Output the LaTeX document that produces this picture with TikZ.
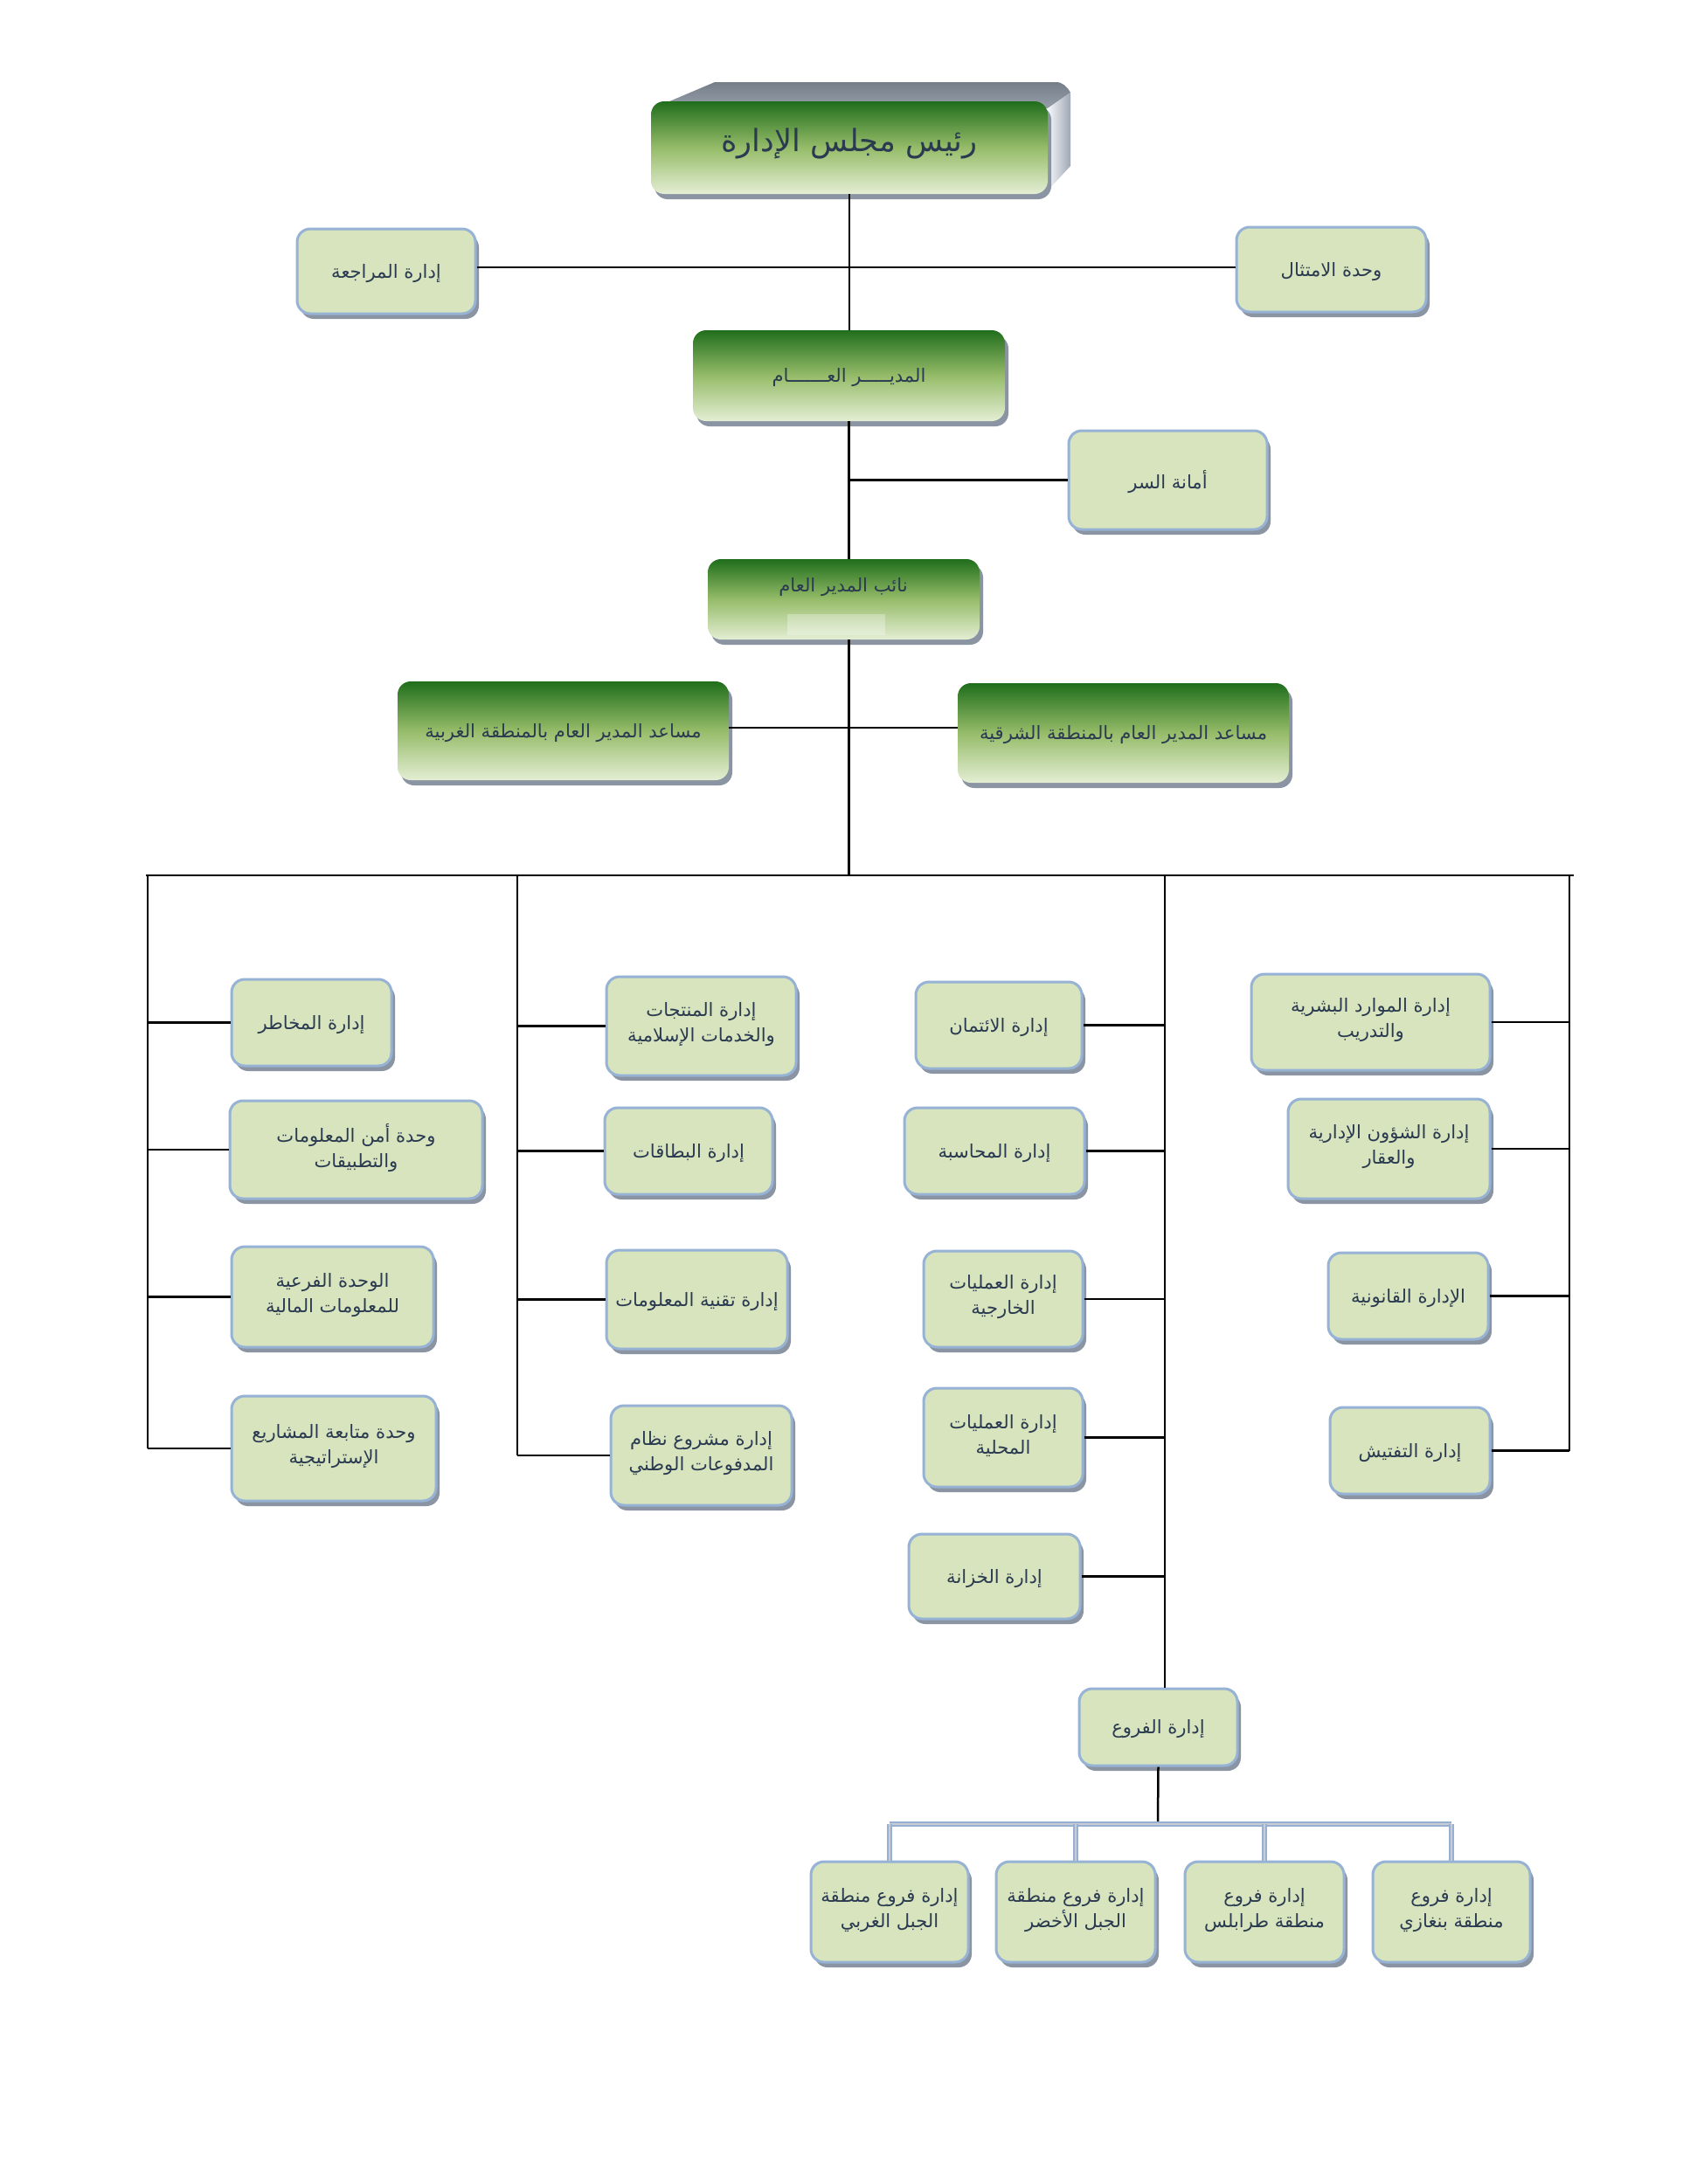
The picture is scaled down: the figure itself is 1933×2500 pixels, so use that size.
\documentclass[tikz,border=0pt]{standalone}
\usepackage{fontspec}
\newfontfamily\arabicfont[Script=Arabic]{DejaVu Sans}
\TeXXeTstate=1
\usetikzlibrary{shadows,fit}
\definecolor{boxfill}{RGB}{216,228,190}
\definecolor{boxborder}{RGB}{150,178,212}
\definecolor{shadowc}{RGB}{138,148,162}
\definecolor{txt}{RGB}{42,58,80}
\definecolor{gtop}{RGB}{32,110,28}
\definecolor{gmid}{RGB}{150,188,105}
\definecolor{gbot}{RGB}{228,238,212}
\definecolor{linkblue}{RGB}{150,175,210}
\definecolor{linkgray}{RGB}{200,204,212}
\newcommand\artx[1]{\beginR #1\endR}
% box with one line of text
\newcommand\ubox[5][unit]{%
  \node[#1, fit={#3 #4}] (#2) {};
  \node[lbl] (#2-t) at ([yshift=-0.5mm]#2.center) {#5};}
% box with two lines of text
\newcommand\uboxx[5][unit]{%
  \node[#1, fit={#3 #4}] (#2) {};
  \node[lbl] (#2-t) at ([yshift=0.4mm]#2.center) {#5};}
\begin{document}
\begin{tikzpicture}[x=0.2mm,y=-0.2mm,
  unit/.style={rounded corners=3mm, draw=boxborder, line width=0.6mm, fill=boxfill,
    inner sep=0pt,
    drop shadow={shadow xshift=0.8mm,shadow yshift=-1.2mm,fill=shadowc,opacity=1}},
  head/.style={rounded corners=3mm, draw=none, top color=gtop, bottom color=gbot, middle color=gmid,
    inner sep=0pt,
    drop shadow={shadow xshift=0.8mm,shadow yshift=-1.2mm,fill=shadowc,opacity=1}},
  lbl/.style={inner sep=0pt, align=center, text=txt, font=\arabicfont\fontsize{12}{16.5}\selectfont},
  link/.style={line width=0.5mm, draw=black},
  blink/.style={draw=linkblue, double=linkgray, double distance=0.4mm, line width=0.4mm}
]
\fill[white] (0,0) rectangle (1933,2500);
\useasboundingbox (0,0) rectangle (1933,2500);

% ---- chair 3D faces
\shade[top color={rgb,255:red,118;green,126;blue,138}, bottom color={rgb,255:red,150;green,158;blue,170}]
  (752,122) -- (818,94) -- (1208,94) to[out=0,in=120] (1225,106) -- (1199,124) -- cycle;
\shade[left color={rgb,255:red,245;green,247;blue,250}, right color={rgb,255:red,160;green,168;blue,180}]
  (1199,124) -- (1225,106) -- (1225,190) -- (1199,218) -- cycle;

% ---- heads
\node[head, fit={(745,116)(1199,222)}] (chair) {};
\node[lbl, font=\arabicfont\fontsize{20}{24}\selectfont] (chair-t) at ([yshift=1.0mm]chair.center) {\artx{رئيس مجلس الإدارة}};
\ubox[head]{gm}{(793,378)}{(1150,482)}{\artx{المديـــــر العـــــــام}}
\node[head, fit={(810,640)(1121,732)}] (deputy) {};
\fill[white, opacity=0.3] (901,703) rectangle (1013,727);
\node[lbl] (deputy-t) at (965,672) {\artx{نائب المدير العام}};
\ubox[head]{westA}{(455,780)}{(834,893)}{\artx{مساعد المدير العام بالمنطقة الغربية}}
\ubox[head]{eastA}{(1096,782)}{(1475,896)}{\artx{مساعد المدير العام بالمنطقة الشرقية}}

% ---- units
\ubox{audit}{(340,262)}{(544,359)}{\artx{إدارة المراجعة}}
\ubox{compl}{(1415,260)}{(1632,357)}{\artx{وحدة الامتثال}}
\ubox{secr}{(1223,493)}{(1450,606)}{\artx{أمانة السر}}

\ubox{risk}{(265,1121)}{(448,1220)}{\artx{إدارة المخاطر}}
\uboxx{infosec}{(263,1260)}{(552,1372)}{\artx{وحدة أمن المعلومات}\\\artx{والتطبيقات}}
\uboxx{finunit}{(265,1427)}{(496,1542)}{\artx{الوحدة الفرعية}\\\artx{للمعلومات المالية}}
\uboxx{proj}{(265,1598)}{(499,1718)}{\artx{وحدة متابعة المشاريع}\\\artx{الإستراتيجية}}

\uboxx{islamic}{(694,1118)}{(911,1231)}{\artx{إدارة المنتجات}\\\artx{والخدمات الإسلامية}}
\ubox{cards}{(692,1268)}{(884,1367)}{\artx{إدارة البطاقات}}
\ubox{it}{(694,1431)}{(901,1544)}{\artx{إدارة تقنية المعلومات}}
\uboxx{pay}{(699,1609)}{(906,1723)}{\artx{إدارة مشروع نظام}\\\artx{المدفوعات الوطني}}

\ubox{credit}{(1048,1124)}{(1238,1223)}{\artx{إدارة الائتمان}}
\ubox{acct}{(1035,1268)}{(1241,1367)}{\artx{إدارة المحاسبة}}
\uboxx{extops}{(1057,1432)}{(1239,1542)}{\artx{إدارة العمليات}\\\artx{الخارجية}}
\uboxx{locops}{(1057,1589)}{(1239,1702)}{\artx{إدارة العمليات}\\\artx{المحلية}}
\ubox{treas}{(1040,1756)}{(1236,1853)}{\artx{إدارة الخزانة}}
\ubox{brn}{(1235,1933)}{(1416,2021)}{\artx{إدارة الفروع}}

\uboxx{hr}{(1432,1115)}{(1705,1225)}{\artx{إدارة الموارد البشرية}\\\artx{والتدريب}}
\uboxx{admin}{(1474,1258)}{(1705,1372)}{\artx{إدارة الشؤون الإدارية}\\\artx{والعقار}}
\ubox{legal}{(1520,1434)}{(1703,1533)}{\artx{الإدارة القانونية}}
\ubox{insp}{(1522,1611)}{(1705,1710)}{\artx{إدارة التفتيش}}

\uboxx{b1}{(928,2131)}{(1108,2246)}{\artx{إدارة فروع منطقة}\\\artx{الجبل الغربي}}
\uboxx{b2}{(1140,2131)}{(1322,2246)}{\artx{إدارة فروع منطقة}\\\artx{الجبل الأخضر}}
\uboxx{b3}{(1356,2131)}{(1538,2246)}{\artx{إدارة فروع}\\\artx{منطقة طرابلس}}
\uboxx{b4}{(1571,2131)}{(1751,2246)}{\artx{إدارة فروع}\\\artx{منطقة بنغازي}}

% ---- coordinates
\coordinate (busL) at (167,1002);
\coordinate (busR) at (1801,1002);
\coordinate (c1) at (169,1002);
\coordinate (c2) at (592,1002);
\coordinate (c3) at (1333,1002);
\coordinate (c4) at (1796,1002);
\coordinate (topl) at (544,306);
\coordinate (midl) at (834,833);
\coordinate (bb) at (1325,2088);

% ---- connectors
\draw[link] (chair.south) -- (chair.south |- gm.north);
\draw[link] (audit.east |- topl) -- (compl.west |- topl);
\draw[link] (gm.south) -- (gm.south |- deputy.north);
\draw[link] (secr.west) -- (secr.west -| gm.south);
\draw[link] (gm.south |- deputy.south) -- (gm.south |- busL);
\draw[link] (westA.east |- midl) -- (eastA.west |- midl);
\draw[link] (busL) -- (busR);

\draw[link] (c1) -- (c1 |- proj.west);
\foreach \n in {risk,infosec,finunit,proj} \draw[link] (\n.west) -- (\n.west -| c1);
\draw[link] (c2) -- (c2 |- pay.west);
\foreach \n in {islamic,cards,it,pay} \draw[link] (\n.west) -- (\n.west -| c2);
\draw[link] (c3) -- (c3 |- brn.north);
\foreach \n in {credit,acct,extops,locops,treas} \draw[link] (\n.east) -- (\n.east -| c3);
\draw[link] (c4) -- (c4 |- insp.east);
\foreach \n in {hr,admin,legal,insp} \draw[link] (\n.east) -- (\n.east -| c4);

\draw[link] (brn.south) -- (bb);
\draw[blink] (b1.north |- bb) -- (b4.north |- bb);
\foreach \n in {b1,b2,b3,b4} \draw[blink] (\n.north |- bb) -- (\n.north);
\end{tikzpicture}
\end{document}
